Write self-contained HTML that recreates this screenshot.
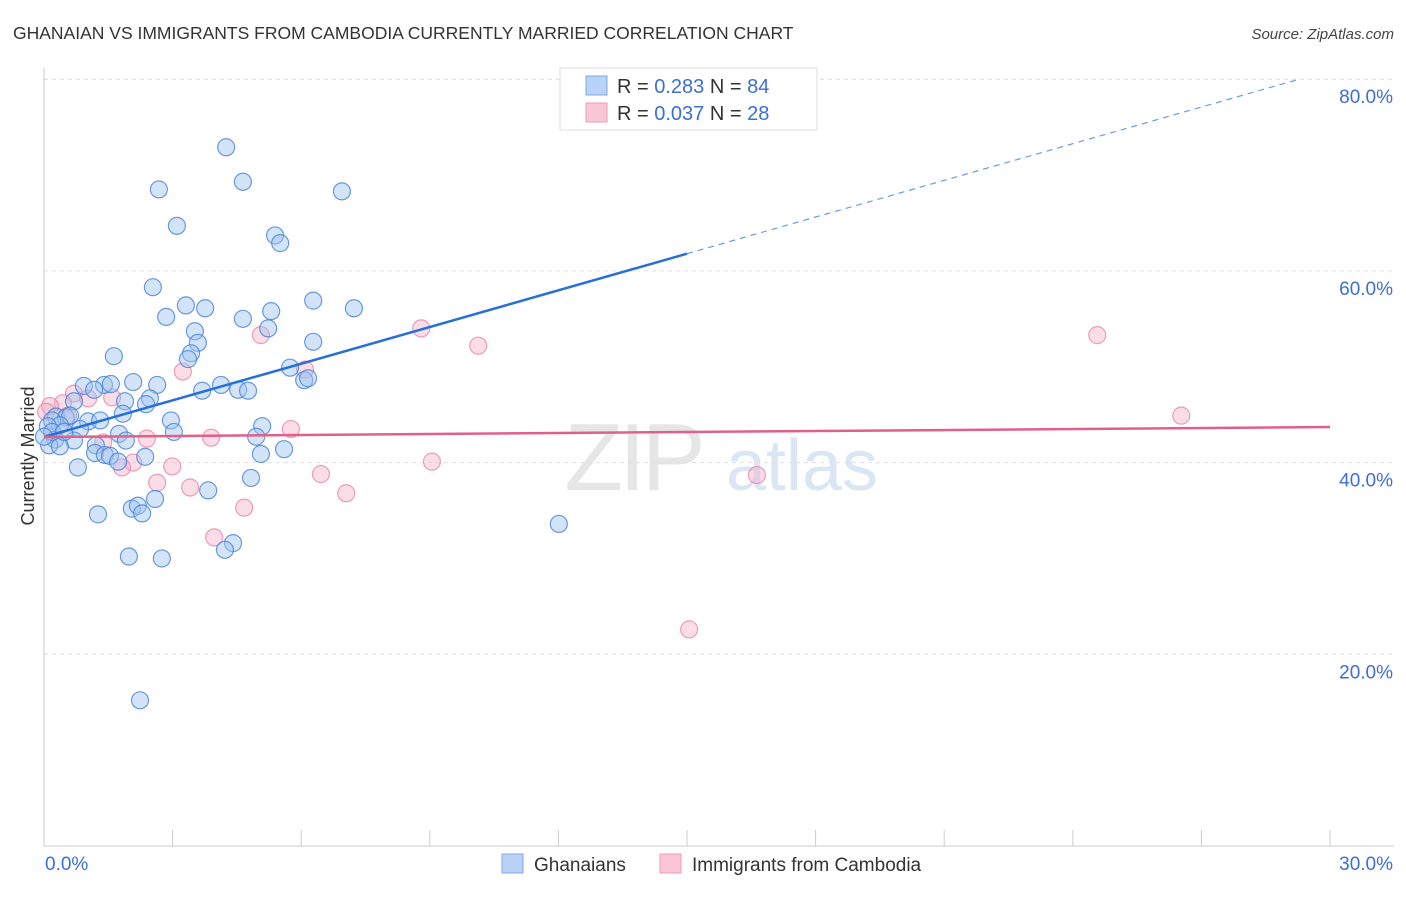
<!DOCTYPE html>
<html><head><meta charset="utf-8"><style>
body{margin:0;background:#fff;font-family:"Liberation Sans",sans-serif}
svg text{font-family:"Liberation Sans",sans-serif}
</style></head><body>
<svg id="c" width="1406" height="892" xmlns="http://www.w3.org/2000/svg">
<text x="13" y="39" font-size="17.5" fill="#333">GHANAIAN VS IMMIGRANTS FROM CAMBODIA CURRENTLY MARRIED CORRELATION CHART</text>
<text x="1394" y="39" font-size="15" fill="#444" font-style="italic" text-anchor="end">Source: ZipAtlas.com</text>
<text x="0" y="0" transform="translate(34,456) rotate(-90)" font-size="18" fill="#333" text-anchor="middle">Currently Married</text>
<g>
<text x="633" y="490" font-size="96" fill="#e6e6e6" text-anchor="middle" font-family="Liberation Serif" letter-spacing="-4">ZIP</text>
<text x="802" y="490" font-size="72" fill="#dbe6f5" text-anchor="middle">atlas</text>
</g>
<g id="grid"></g><g id="axes"></g><g id="marks"></g>
<g>
<rect x="560" y="68" width="257" height="62" fill="#fff" stroke="#ddd"/>
<rect x="586" y="76" width="21" height="19" fill="#b9d3f6" stroke="#7ea8e6"/>
<text x="617" y="93" font-size="20" fill="#333">R = <tspan fill="#3b6fd4">0.283</tspan>   N = <tspan fill="#3b6fd4">84</tspan></text>
<rect x="586" y="103" width="21" height="19" fill="#f9c6d6" stroke="#eb9cb5"/>
<text x="617" y="120" font-size="20" fill="#333">R = <tspan fill="#3b6fd4">0.037</tspan>   N = <tspan fill="#3b6fd4">28</tspan></text>
</g>
<g>
<rect x="502" y="854" width="21" height="19" fill="#b9d3f6" stroke="#7ea8e6"/>
<text x="534" y="871" font-size="19" fill="#333">Ghanaians</text>
<rect x="660" y="854" width="21" height="19" fill="#f9c6d6" stroke="#eb9cb5"/>
<text x="692" y="871" font-size="19" fill="#333">Immigrants from Cambodia</text>
</g>
</svg>
<script>
const blueX=[4.25,2.68,4.64,6.95,3.10,5.39,5.51,2.54,3.31,3.76,6.28,7.23,2.85,4.64,5.30,5.23,3.52,3.59,3.43,3.36,6.28,1.63,5.74,6.07,6.16,0.93,1.40,1.56,2.08,2.64,1.17,3.69,4.13,4.53,4.76,0.70,1.89,2.47,2.38,0.28,0.51,0.61,0.19,0.37,1.03,1.31,1.84,2.96,5.09,0.09,0.84,1.75,3.03,4.95,0.26,0.70,1.21,1.91,0.12,0.37,1.19,1.42,1.54,1.73,2.36,5.60,5.06,0.79,4.83,3.83,2.59,2.05,2.19,1.26,2.29,4.41,4.22,1.98,2.75,12.01,2.24,0.19,0.0,0.47];
const blueY=[72.9,68.5,69.3,68.3,64.7,63.7,62.9,58.3,56.4,56.1,56.9,56.1,55.2,55.0,55.8,54.0,53.7,52.5,51.4,50.8,52.6,51.1,49.9,48.6,48.8,48.0,48.1,48.2,48.4,48.1,47.6,47.5,48.1,47.6,47.5,46.4,46.4,46.7,46.1,44.8,44.7,44.9,44.4,43.9,44.3,44.4,45.1,44.4,43.8,43.8,43.5,43.0,43.2,42.7,42.4,42.3,41.8,42.3,41.8,41.7,41.0,40.8,40.7,40.1,40.6,41.4,40.9,39.5,38.4,37.1,36.2,35.2,35.5,34.6,34.7,31.6,30.9,30.2,30.0,33.6,15.2,43.2,42.7,43.2];
const pinkX=[8.80,5.06,10.13,3.24,6.09,0.70,1.03,1.59,0.44,0.14,0.05,0.56,5.76,2.40,3.90,1.38,2.08,1.82,2.99,9.05,6.46,7.05,3.41,2.64,4.67,3.97,15.05,24.57,26.53,16.63];
const pinkY=[54.0,53.3,52.2,49.5,49.7,47.2,46.7,46.8,46.2,45.9,45.3,44.9,43.5,42.5,42.6,42.1,40.0,39.5,39.6,40.1,38.8,36.8,37.4,37.9,35.3,32.2,22.6,53.3,44.9,38.7];
const yTicks=[20,40,60,80];
const yTickLabels=["20.0%","40.0%","60.0%","80.0%"];
const xTicks=[0,3,6,9,12,15,18,21,24,27,30];
const blueTrend=[42.67,1.275];
const pinkTrend=[42.67,0.0347];
const X=v=>44+v/30*1286, Y=v=>846-v/20*191.7;
const NS="http://www.w3.org/2000/svg";
function mk(p,t,a){const e=document.createElementNS(NS,t);for(const k in a)e.setAttribute(k,a[k]);p.appendChild(e);return e;}
const grid=document.getElementById('grid'),axes=document.getElementById('axes'),marks=document.getElementById('marks');
yTicks.forEach((t,i)=>{
 const l=mk(grid,'line',{x1:44,x2:1394,y1:Y(t),y2:Y(t),stroke:'#e0e0e0','stroke-dasharray':'4,4'});
 
 
 const tx=mk(axes,'text',{x:1393,y:Y(t)+24,'font-size':19,fill:'#3b6fd4','text-anchor':'end'});
 tx.textContent=yTickLabels[i];
 
 
});
const gl=mk(grid,'line',{x1:44,x2:1394,y1:Y(80)+0,y2:Y(80),stroke:'#e0e0e0','stroke-dasharray':'4,4'});
mk(axes,'line',{x1:44,x2:44,y1:68,y2:846,stroke:'#ccc'});
mk(axes,'line',{x1:44,x2:1394,y1:846,y2:846,stroke:'#ccc'});
xTicks.forEach(t=>{
 const l=mk(axes,'line',{x1:X(t),x2:X(t),y1:830,y2:846,stroke:'#ccc'});
 
 
});
const x0=mk(axes,'text',{x:45,y:870,'font-size':19,fill:'#3b6fd4'});x0.textContent='0.0%';


const x1=mk(axes,'text',{x:1393,y:870,'font-size':19,fill:'#3b6fd4','text-anchor':'end'});x1.textContent='30.0%';


pinkX.forEach((v,i)=>{
 const c=mk(marks,'circle',{cx:X(v),cy:Y(pinkY[i]),r:8.5,fill:'rgba(245,170,195,0.4)',stroke:'rgba(230,120,160,0.7)','stroke-width':1.2});
 
 
});
blueX.forEach((v,i)=>{
 const c=mk(marks,'circle',{cx:X(v),cy:Y(blueY[i]),r:8.5,fill:'rgba(160,195,240,0.45)',stroke:'rgba(70,130,215,0.8)','stroke-width':1.2});
 
 
});
const bl=mk(marks,'line',{x1:X(0),y1:Y(blueTrend[0]),x2:X(15),y2:Y(blueTrend[0]+15*blueTrend[1]),stroke:'#2870d8','stroke-width':2.5});


const bd=mk(marks,'line',{x1:X(15),y1:Y(blueTrend[0]+15*blueTrend[1]),x2:X(29.3),y2:Y(blueTrend[0]+29.3*blueTrend[1]),stroke:'#6a9be0','stroke-width':1.2,'stroke-dasharray':'6,5'});


const pl=mk(marks,'line',{x1:X(0),y1:Y(pinkTrend[0]),x2:X(30),y2:Y(pinkTrend[0]+30*pinkTrend[1]),stroke:'#e0608a','stroke-width':2.5});


</script>
</body></html>
